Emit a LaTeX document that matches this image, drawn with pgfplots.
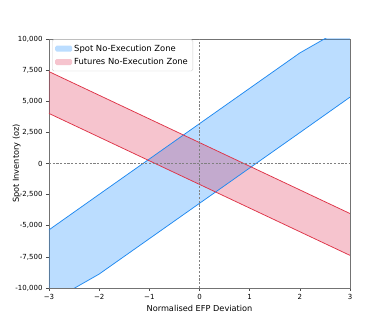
\documentclass[border=0pt]{standalone}
\usepackage{fontspec}
\setmainfont{DejaVu Sans}
\usepackage{pgfplots}
\pgfplotsset{compat=1.18}
\usepgfplotslibrary{fillbetween}
\definecolor{spotline}{RGB}{30,136,240}
\definecolor{spotfill}{RGB}{30,144,255}
\definecolor{futline}{RGB}{222,52,72}
\definecolor{futfill}{RGB}{220,20,60}
\begin{document}
\begin{tikzpicture}
\begin{axis}[
  name=ax,
  at={(0pt,0pt)}, anchor=south west,
  scale only axis, width=301pt, height=249pt,
  xmin=-3, xmax=3, ymin=-10000, ymax=10000,
  scaled y ticks=false,
  axis line style={black!55, line width=0.8pt},
  tick style={black!70, line width=0.6pt},
  tick align=outside, major tick length=3pt,
  xtick={-3,-2,-1,0,1,2,3},
  xticklabels={−3,−2,−1,0,1,2,3},
  ytick={-10000,-7500,-5000,-2500,0,2500,5000,7500,10000},
  yticklabels={{-10,000},{-7,500},{-5,000},{-2,500},0,{2,500},{5,000},{7,500},{10,000}},
  ticklabel style={font=\fontsize{7}{8}\selectfont},
  xtick pos=bottom, ytick pos=left,
  xlabel={Normalised EFP Deviation},
  ylabel={Spot Inventory (oz)},
  label style={font=\fontsize{8.2}{10}\selectfont},
  xlabel style={yshift=1pt},
  ylabel style={yshift=-12pt},
  legend style={at={(0.01,0.998)}, anchor=north west, font=\fontsize{8.4}{10}\selectfont,
    draw=black!20, rounded corners=1.5pt, inner sep=3pt, row sep=1.5pt},
  legend cell align=left,
  legend image code/.code={\fill[#1] (0pt,-3pt) rectangle (17pt,3pt);},
]
% Spot zone
\addplot[name path=su, spotline, line width=0.75pt, forget plot] coordinates {
  (-3,-5330) (-2,-2480) (-1,360) (0,3200) (1,6040) (2,8880) (3,11180)};
\addplot[name path=sl, spotline, line width=0.75pt, forget plot] coordinates {
  (-3,-11180) (-2,-8880) (-1,-6040) (0,-3200) (1,-360) (2,2480) (3,5330)};
\addplot[spotfill, fill opacity=0.3, draw=none, forget plot] fill between[of=su and sl];

% Futures zone
\addplot[name path=fu, futline, line width=0.75pt, forget plot] coordinates {
  (-3,7380) (0,1680) (3,-4020)};
\addplot[name path=fl, futline, line width=0.75pt, forget plot] coordinates {
  (-3,4020) (0,-1680) (3,-7380)};
\addplot[futfill, fill opacity=0.25, draw=none, forget plot] fill between[of=fu and fl];

\addplot[black!50, dash pattern=on 2.2pt off 1.5pt, line width=0.5pt, forget plot] coordinates {(0,-10000) (0,10000)};
\addplot[black!50, dash pattern=on 2.2pt off 1.5pt, line width=0.5pt, forget plot] coordinates {(-3,0) (3,0)};

\addlegendimage{fill=spotfill, fill opacity=0.3, draw=none}
\addlegendentry{Spot No-Execution Zone}
\addlegendimage{fill=futfill, fill opacity=0.25, draw=none}
\addlegendentry{Futures No-Execution Zone}
\end{axis}
\useasboundingbox (-49pt,-36pt) rectangle (340pt,288pt);
\end{tikzpicture}
\end{document}
